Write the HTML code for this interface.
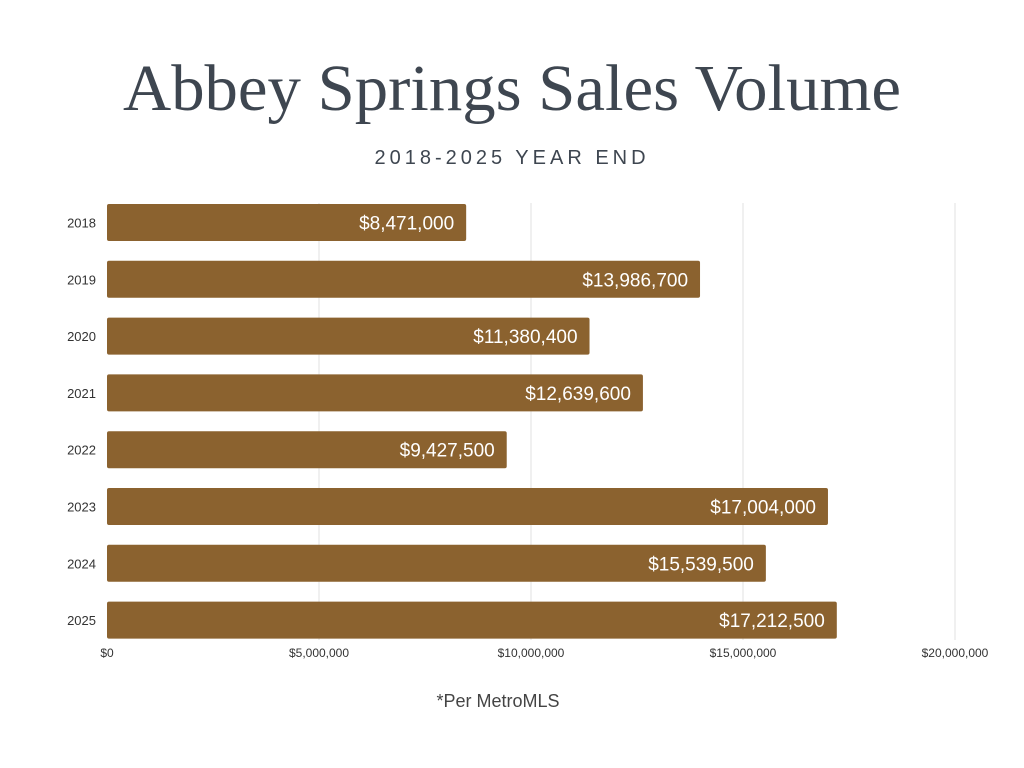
<!DOCTYPE html>
<html><head><meta charset="utf-8"><style>
html,body{margin:0;padding:0;background:#fff;width:1024px;height:768px;overflow:hidden}
svg{display:block}
</style></head><body>
<svg id="c" width="1024" height="768">
<text x="512" y="110" text-anchor="middle" font-family="Liberation Serif, serif" font-size="66" textLength="778" lengthAdjust="spacingAndGlyphs" fill="#3e4650">Abbey Springs Sales Volume</text>
<text x="512" y="164" text-anchor="middle" font-family="Liberation Sans, sans-serif" font-size="20" letter-spacing="4" fill="#3e4650">2018-2025 YEAR END</text>
<g id="grid"></g><g id="bars"></g><g id="axis"></g>
<text x="498" y="707" text-anchor="middle" font-family="Liberation Sans, sans-serif" font-size="18" fill="#444">*Per MetroMLS</text>
</svg>
<script>
const years=["2018","2019","2020","2021","2022","2023","2024","2025"];
const values=[8471000,13986700,11380400,12639600,9427500,17004000,15539500,17212500];
const labels=["$8,471,000","$13,986,700","$11,380,400","$12,639,600","$9,427,500","$17,004,000","$15,539,500","$17,212,500"];
const ticks=[0,5000000,10000000,15000000,20000000];
const tickLabels=["$0","$5,000,000","$10,000,000","$15,000,000","$20,000,000"];
const NS="http://www.w3.org/2000/svg";
const x0=107,x1=955,xmax=20000000;
const X=v=>x0+(x1-x0)*v/xmax;
const Y=i=>222.5+i*56.8;
const bh=37;
function mk(t,a,p){const e=document.createElementNS(NS,t);for(const k in a)e.setAttribute(k,a[k]);p.appendChild(e);return e;}
const g=document.getElementById('grid'),b=document.getElementById('bars'),ax=document.getElementById('axis');
ticks.forEach((t,i)=>{
  if(i>0){const l=mk('line',{x1:X(t),x2:X(t),y1:203,y2:640,stroke:'#e2e2e2','stroke-width':1},g);
  
  }
  const tx=mk('text',{x:X(t),y:657,'text-anchor':'middle','font-family':'Liberation Sans, sans-serif','font-size':12,fill:'#333'},ax);
  tx.textContent=tickLabels[i];
  
  
});
years.forEach((y,i)=>{
  const r=mk('rect',{x:x0,y:Y(i)-bh/2,width:X(values[i])-x0,height:bh,rx:2,fill:'#8b622f'},b);
  
  
  const yl=mk('text',{x:96,y:Y(i)+5,'text-anchor':'end','font-family':'Liberation Sans, sans-serif','font-size':13,fill:'#333'},ax);
  yl.textContent=y;
  
  
  const vl=mk('text',{x:X(values[i])-12,y:Y(i)+7,'text-anchor':'end','font-family':'Liberation Sans, sans-serif','font-size':19,fill:'#fff'},b);
  vl.textContent=labels[i];
  
  
});
</script>
</body></html>
